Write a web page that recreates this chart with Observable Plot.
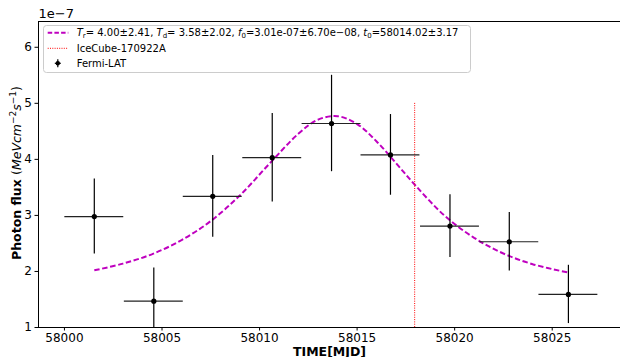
<!DOCTYPE html>
<html><head><meta charset="utf-8">
<script src="https://cdn.jsdelivr.net/npm/d3@7"></script>
<script src="https://cdn.jsdelivr.net/npm/@observablehq/plot@0.6"></script>
<style>body{margin:0;background:#fff;} #chart svg{display:block}</style>
</head><body><div id="chart"></div>
<script>
// Fermi-LAT light curve (flux in units of 1e-7)
const times    = [58001.53, 58004.58, 58007.60, 58010.65, 58013.69, 58016.71, 58019.76, 58022.80, 58025.83];
const timeErr  = [1.51, 1.51, 1.51, 1.51, 1.51, 1.51, 1.51, 1.51, 1.51];
const flux     = [2.98, 1.47, 3.34, 4.03, 4.64, 4.08, 2.81, 2.53, 1.59];
const fluxErr  = [0.67, 0.59, 0.73, 0.79, 0.86, 0.72, 0.56, 0.52, 0.52];
// Fitted flare profile
const fitTimes = [58001.53, 58003.0, 58004.5, 58006.0, 58007.5, 58009.0, 58010.5, 58012.0, 58013.0, 58014.0, 58015.0, 58016.0, 58017.0, 58018.0, 58019.5, 58021.0, 58022.5, 58024.0, 58025.83];
const fitFlux  = [2.02, 2.14, 2.31, 2.56, 2.90, 3.36, 3.92, 4.46, 4.71, 4.77, 4.63, 4.32, 3.93, 3.53, 2.99, 2.60, 2.32, 2.13, 1.98];
// IceCube-170922A
const iceCubeT = [58017.95];
const iceCubeTop = [5.0];
const xTicks = [58000, 58005, 58010, 58015, 58020, 58025];
const yTicks = [1, 2, 3, 4, 5, 6];
const xDomain = [57998.67, 58028.5];
const yDomain = [1, 6.46];

const legendFit = ["T","r","= 4.00±2.41, ","T","d","= 3.58±2.02, ","f","0","=3.01e-07±6.70e\u221208, ","t","0","=58014.02±3.17"];
const legendIce = "IceCube-170922A";
const legendFermi = "Fermi-LAT";

const points = times.map((t, i) => ({t, f: flux[i], fe: fluxErr[i], te: timeErr[i]}));
const fit = fitTimes.map((t, i) => ({t, f: fitFlux[i]}));

const chart = Plot.plot({
  width: 620, height: 357,
  marginLeft: 38, marginRight: 0, marginTop: 21, marginBottom: 30,
  style: {fontFamily: "DejaVu Sans", fontSize: "12px", color: "#000", background: "#fff", overflow: "visible"},
  x: {domain: xDomain, ticks: xTicks, tickFormat: d => String(d), tickSize: 3.5, tickPadding: 2, label: null},
  y: {domain: yDomain, ticks: yTicks, tickFormat: d => String(d), tickSize: 3.5, tickPadding: 3, label: null},
  marks: [
    Plot.line(fit, {x: "t", y: "f", stroke: "#bf00bf", strokeWidth: 2, strokeDasharray: "5.5,2.6", strokeLinecap: "butt", strokeLinejoin: "miter", curve: "catmull-rom"}),
    Plot.ruleX(iceCubeT, {x: d => d, y1: yDomain[0], y2: iceCubeTop[0], stroke: "#ff0000", strokeWidth: 1, strokeDasharray: "1,1.3"}),
    Plot.ruleX(points, {x: "t", y1: d => d.f - d.fe, y2: d => d.f + d.fe, stroke: "#000", strokeWidth: 1.2, clip: true}),
    Plot.ruleY(points, {y: "f", x1: d => d.t - d.te, x2: d => d.t + d.te, stroke: "#222", strokeWidth: 1.2, clip: true}),
    Plot.dot(points, {x: "t", y: "f", r: 2.6, fill: "#000", stroke: null}),
    Plot.ruleX([xDomain[0]], {stroke: "#000", strokeWidth: 1}),
    Plot.ruleY([yDomain[0]], {stroke: "#000", strokeWidth: 1}),
    Plot.ruleY([yDomain[1]], {stroke: "#000", strokeWidth: 1}),
    Plot.text(["1e\u22127"], {frameAnchor: "top-left", textAnchor: "start", lineAnchor: "bottom", dy: -4, fontSize: 13}),
    Plot.text(["TIME[MJD]"], {frameAnchor: "bottom", lineAnchor: "middle", dy: 24, fontSize: 12.5, fontWeight: "bold"})
  ]
});
document.getElementById("chart").appendChild(chart);

const svg = d3.select(chart);

// Y label
const yl = svg.append("text")
  .attr("transform", "translate(21,173) rotate(-90)")
  .attr("text-anchor", "middle")
  .attr("font-family", "DejaVu Sans").attr("font-size", 12.5).attr("fill", "#000");
yl.append("tspan").attr("font-weight", "bold").text("Photon flux ");
yl.append("tspan").text("(");
yl.append("tspan").attr("font-style", "italic").text("MeVcm");
yl.append("tspan").attr("font-size", 9).attr("dy", -5).text("\u22122");
yl.append("tspan").attr("font-style", "italic").attr("dy", 5).text("s");
yl.append("tspan").attr("font-size", 9).attr("dy", -5).text("\u22121");
yl.append("tspan").attr("dy", 5).text(")");

// Legend
const lg = svg.append("g").attr("font-family", "DejaVu Sans").attr("font-size", 10).attr("fill", "#000").attr("text-anchor", "start");
lg.append("rect").attr("x", 43.5).attr("y", 25.5).attr("width", 427).attr("height", 47).attr("rx", 3)
  .attr("fill", "#fff").attr("fill-opacity", 0.8).attr("stroke", "#cccccc");
lg.append("line").attr("x1", 47.7).attr("x2", 68.3).attr("y1", 32.7).attr("y2", 32.7)
  .attr("stroke", "#bf00bf").attr("stroke-width", 2).attr("stroke-dasharray", "4.5,2.2");
lg.append("line").attr("x1", 47.7).attr("x2", 68.3).attr("y1", 48.3).attr("y2", 48.3)
  .attr("stroke", "#ff0000").attr("stroke-width", 1).attr("stroke-dasharray", "1,1.3");
lg.append("line").attr("x1", 57.8).attr("x2", 57.8).attr("y1", 59.3).attr("y2", 67.3).attr("stroke", "#000").attr("stroke-width", 1.2);
lg.append("line").attr("x1", 54.8).attr("x2", 60.8).attr("y1", 63.3).attr("y2", 63.3).attr("stroke", "#000").attr("stroke-width", 1.2);
lg.append("circle").attr("cx", 57.8).attr("cy", 63.3).attr("r", 2.2).attr("fill", "#000");

const t1 = lg.append("text").attr("x", 76.7).attr("y", 36.3);
legendFit.forEach((s, i) => {
  const ts = t1.append("tspan").text(s);
  if (i % 3 === 0) ts.attr("font-style", "italic");
  if (i % 3 === 1) ts.attr("font-size", 7).attr("dy", 2);
  if (i % 3 === 2) ts.attr("dy", -2);
});
lg.append("text").attr("x", 76.7).attr("y", 51.9).text(legendIce);
lg.append("text").attr("x", 76.7).attr("y", 66.9).text(legendFermi);
</script>
</body></html>
